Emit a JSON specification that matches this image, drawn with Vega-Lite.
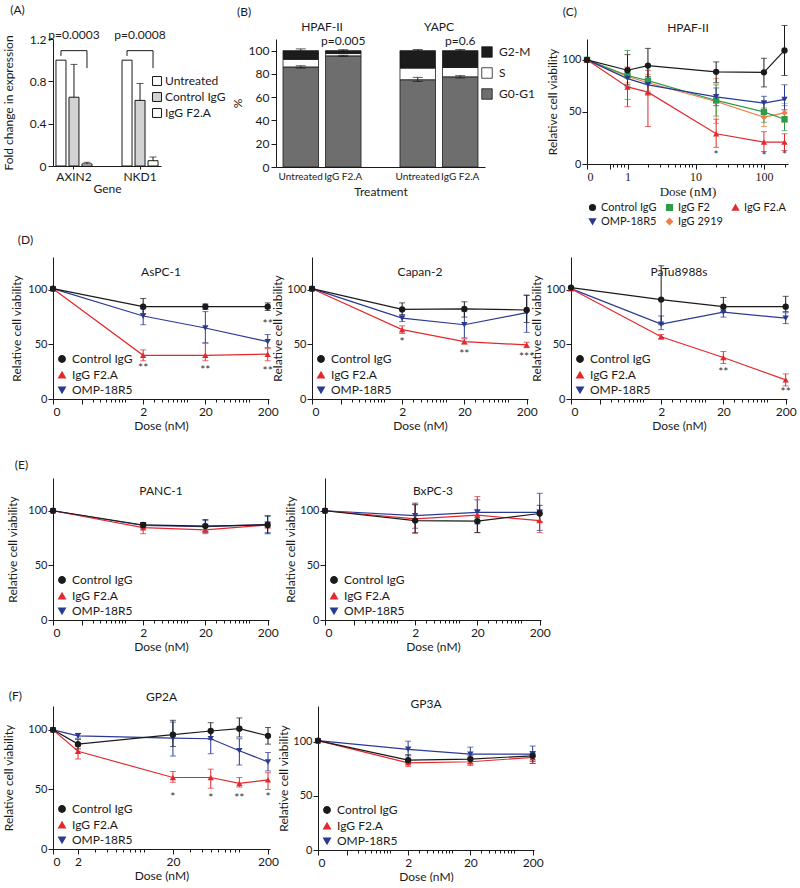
{
"$schema":"https://vega.github.io/schema/vega-lite/v6.json",
"padding":{"left":2,"top":3,"right":0,"bottom":0},
"config":{
 "font":"Lato",
 "view":{"stroke":null},
 "axis":{"labelFont":"Lato","titleFont":"Lato","labelFontSize":11,"titleFontSize":12,"titleFontWeight":"normal","domainColor":"#1a1a1a","tickColor":"#1a1a1a","labelColor":"#1a1a1a","titleColor":"#1a1a1a","grid":false},
 "legend":{"labelFont":"Lato","labelFontSize":12,"labelColor":"#1a1a1a","symbolOpacity":1},
 "title":{"font":"Lato","fontSize":12,"fontWeight":"normal","color":"#1a1a1a"}
},
"datasets":{
 "expr":[
  {"gene":"AXIN2","trt":"Untreated","val":1.0},
  {"gene":"AXIN2","trt":"Control IgG","val":0.65,"hi":0.96},
  {"gene":"AXIN2","trt":"IgG F2.A","val":0.02,"hi":0.035},
  {"gene":"NKD1","trt":"Untreated","val":1.0},
  {"gene":"NKD1","trt":"Control IgG","val":0.62,"hi":0.78},
  {"gene":"NKD1","trt":"IgG F2.A","val":0.05,"hi":0.085}
 ],
 "brk":[
  {"gene":"AXIN2","trt":"Untreated","y":1.04,"k":1},
  {"gene":"AXIN2","trt":"Untreated","y":1.09,"k":2},
  {"gene":"AXIN2","trt":"IgG F2.A","y":1.09,"k":3},
  {"gene":"AXIN2","trt":"IgG F2.A","y":0.925,"k":4},
  {"gene":"NKD1","trt":"Untreated","y":1.04,"k":1},
  {"gene":"NKD1","trt":"Untreated","y":1.09,"k":2},
  {"gene":"NKD1","trt":"IgG F2.A","y":1.09,"k":3},
  {"gene":"NKD1","trt":"IgG F2.A","y":0.925,"k":4}
 ],
 "pv":[
  {"gene":"AXIN2","y":1.24,"t":"p=0.0003"},
  {"gene":"NKD1","y":1.24,"t":"p=0.0008"}
 ],
 "cycle":[
  {"cell":"HPAF-II","trt":"Untreated","phase":"G0-G1","lo":0,"hi":86},
  {"cell":"HPAF-II","trt":"Untreated","phase":"S","lo":86,"hi":92.5},
  {"cell":"HPAF-II","trt":"Untreated","phase":"G2-M","lo":92.5,"hi":100},
  {"cell":"HPAF-II","trt":"IgG F2.A","phase":"G0-G1","lo":0,"hi":95.5},
  {"cell":"HPAF-II","trt":"IgG F2.A","phase":"S","lo":95.5,"hi":97.5},
  {"cell":"HPAF-II","trt":"IgG F2.A","phase":"G2-M","lo":97.5,"hi":100},
  {"cell":"YAPC","trt":"Untreated","phase":"G0-G1","lo":0,"hi":75},
  {"cell":"YAPC","trt":"Untreated","phase":"S","lo":75,"hi":85},
  {"cell":"YAPC","trt":"Untreated","phase":"G2-M","lo":85,"hi":100},
  {"cell":"YAPC","trt":"IgG F2.A","phase":"G0-G1","lo":0,"hi":77.5},
  {"cell":"YAPC","trt":"IgG F2.A","phase":"S","lo":77.5,"hi":85.5},
  {"cell":"YAPC","trt":"IgG F2.A","phase":"G2-M","lo":85.5,"hi":100}
 ],
 "cycerr":[
  {"cell":"HPAF-II","trt":"Untreated","lo":85,"hi":87},
  {"cell":"HPAF-II","trt":"Untreated","lo":99,"hi":101.5},
  {"cell":"HPAF-II","trt":"IgG F2.A","lo":95,"hi":96},
  {"cell":"HPAF-II","trt":"IgG F2.A","lo":99.5,"hi":100.8},
  {"cell":"YAPC","trt":"Untreated","lo":73.5,"hi":77},
  {"cell":"YAPC","trt":"Untreated","lo":99.5,"hi":101},
  {"cell":"YAPC","trt":"IgG F2.A","lo":76.5,"hi":78.5},
  {"cell":"YAPC","trt":"IgG F2.A","lo":99.5,"hi":101}
 ],
 "cycp":[
  {"cell":"HPAF-II","trt":"IgG F2.A","y":108.5,"t":"p=0.005"},
  {"cell":"YAPC","trt":"IgG F2.A","y":108.5,"t":"p=0.6"}
 ],
 "cyclab":[
  {"cell":"HPAF-II","trt":"Untreated"},
  {"cell":"HPAF-II","trt":"IgG F2.A"},
  {"cell":"YAPC","trt":"Untreated"},
  {"cell":"YAPC","trt":"IgG F2.A"}
 ],
 "stars":[
  {"p":"HPAF-II","d":20,"y":9,"t":"*"},
  {"p":"HPAF-II","d":100,"y":8,"t":"*"},
  {"p":"HPAF-II","d":200,"y":9,"t":"*"},
  {"p":"AsPC-1","d":2,"y":28,"t":"**"},
  {"p":"AsPC-1","d":20,"y":27,"t":"**"},
  {"p":"AsPC-1","d":200,"y":26,"t":"**"},
  {"p":"AsPC-1","d":200,"y":69,"t":"**"},
  {"p":"Capan-2","d":2,"y":52,"t":"*"},
  {"p":"Capan-2","d":20,"y":41,"t":"**"},
  {"p":"Capan-2","d":200,"y":38,"t":"***"},
  {"p":"PaTu8988s","d":20,"y":25,"t":"**"},
  {"p":"PaTu8988s","d":200,"y":6,"t":"**"},
  {"p":"GP2A","d":20,"y":44,"t":"*"},
  {"p":"GP2A","d":50,"y":43,"t":"*"},
  {"p":"GP2A","d":100,"y":43,"t":"**"},
  {"p":"GP2A","d":200,"y":44,"t":"*"}
 ],
 "viab":[
  {"p":"HPAF-II","s":"IgG 2919","d":0,"v":100},
  {"p":"HPAF-II","s":"IgG 2919","d":1,"v":84,"lo":78,"hi":90},
  {"p":"HPAF-II","s":"IgG 2919","d":2,"v":78,"lo":70,"hi":86},
  {"p":"HPAF-II","s":"IgG 2919","d":20,"v":60,"lo":39,"hi":82},
  {"p":"HPAF-II","s":"IgG 2919","d":100,"v":45,"lo":36,"hi":54},
  {"p":"HPAF-II","s":"IgG 2919","d":200,"v":49,"lo":40,"hi":58},
  {"p":"HPAF-II","s":"IgG F2","d":0,"v":100},
  {"p":"HPAF-II","s":"IgG F2","d":1,"v":85,"lo":62,"hi":109},
  {"p":"HPAF-II","s":"IgG F2","d":2,"v":80,"lo":66,"hi":94},
  {"p":"HPAF-II","s":"IgG F2","d":20,"v":61,"lo":46,"hi":76},
  {"p":"HPAF-II","s":"IgG F2","d":100,"v":50,"lo":40,"hi":60},
  {"p":"HPAF-II","s":"IgG F2","d":200,"v":43,"lo":32,"hi":56},
  {"p":"HPAF-II","s":"OMP-18R5","d":0,"v":100},
  {"p":"HPAF-II","s":"OMP-18R5","d":1,"v":82,"lo":74,"hi":90},
  {"p":"HPAF-II","s":"OMP-18R5","d":2,"v":76,"lo":68,"hi":84},
  {"p":"HPAF-II","s":"OMP-18R5","d":20,"v":64.5,"lo":56,"hi":73},
  {"p":"HPAF-II","s":"OMP-18R5","d":100,"v":58.5,"lo":52,"hi":65},
  {"p":"HPAF-II","s":"OMP-18R5","d":200,"v":62,"lo":52,"hi":76},
  {"p":"HPAF-II","s":"IgG F2.A","d":0,"v":100},
  {"p":"HPAF-II","s":"IgG F2.A","d":1,"v":74,"lo":55,"hi":93},
  {"p":"HPAF-II","s":"IgG F2.A","d":2,"v":69,"lo":36,"hi":90},
  {"p":"HPAF-II","s":"IgG F2.A","d":20,"v":29,"lo":16,"hi":43},
  {"p":"HPAF-II","s":"IgG F2.A","d":100,"v":21,"lo":12,"hi":31},
  {"p":"HPAF-II","s":"IgG F2.A","d":200,"v":21,"lo":13,"hi":29},
  {"p":"HPAF-II","s":"Control IgG","d":0,"v":100},
  {"p":"HPAF-II","s":"Control IgG","d":1,"v":90,"lo":76,"hi":105},
  {"p":"HPAF-II","s":"Control IgG","d":2,"v":94.5,"lo":78,"hi":111},
  {"p":"HPAF-II","s":"Control IgG","d":20,"v":88.5,"lo":78,"hi":98},
  {"p":"HPAF-II","s":"Control IgG","d":100,"v":88,"lo":74,"hi":101.5},
  {"p":"HPAF-II","s":"Control IgG","d":200,"v":109,"lo":85,"hi":133},
  {"p":"AsPC-1","s":"OMP-18R5","d":0,"v":101},
  {"p":"AsPC-1","s":"OMP-18R5","d":2,"v":76,"lo":68,"hi":82.5},
  {"p":"AsPC-1","s":"OMP-18R5","d":20,"v":65,"lo":51.5,"hi":80},
  {"p":"AsPC-1","s":"OMP-18R5","d":200,"v":52.5,"lo":47,"hi":59},
  {"p":"AsPC-1","s":"IgG F2.A","d":0,"v":101},
  {"p":"AsPC-1","s":"IgG F2.A","d":2,"v":40,"lo":35,"hi":45},
  {"p":"AsPC-1","s":"IgG F2.A","d":20,"v":40,"lo":35,"hi":51},
  {"p":"AsPC-1","s":"IgG F2.A","d":200,"v":41,"lo":35,"hi":46},
  {"p":"AsPC-1","s":"Control IgG","d":0,"v":101},
  {"p":"AsPC-1","s":"Control IgG","d":2,"v":84.5,"lo":78,"hi":92},
  {"p":"AsPC-1","s":"Control IgG","d":20,"v":84.5,"lo":82,"hi":87},
  {"p":"AsPC-1","s":"Control IgG","d":200,"v":84.5,"lo":81,"hi":88},
  {"p":"Capan-2","s":"OMP-18R5","d":0,"v":101},
  {"p":"Capan-2","s":"OMP-18R5","d":2,"v":74,"lo":71,"hi":77},
  {"p":"Capan-2","s":"OMP-18R5","d":20,"v":68,"lo":56,"hi":80},
  {"p":"Capan-2","s":"OMP-18R5","d":200,"v":79,"lo":61,"hi":95},
  {"p":"Capan-2","s":"IgG F2.A","d":0,"v":101},
  {"p":"Capan-2","s":"IgG F2.A","d":2,"v":63.5,"lo":60,"hi":67},
  {"p":"Capan-2","s":"IgG F2.A","d":20,"v":52.5,"lo":50.5,"hi":55},
  {"p":"Capan-2","s":"IgG F2.A","d":200,"v":49.5,"lo":47,"hi":52},
  {"p":"Capan-2","s":"Control IgG","d":0,"v":101},
  {"p":"Capan-2","s":"Control IgG","d":2,"v":82,"lo":77,"hi":88},
  {"p":"Capan-2","s":"Control IgG","d":20,"v":82.5,"lo":75,"hi":89},
  {"p":"Capan-2","s":"Control IgG","d":200,"v":81.5,"lo":70,"hi":95},
  {"p":"PaTu8988s","s":"OMP-18R5","d":0,"v":101},
  {"p":"PaTu8988s","s":"OMP-18R5","d":2,"v":68.5,"lo":63.5,"hi":76},
  {"p":"PaTu8988s","s":"OMP-18R5","d":20,"v":79.5,"lo":75,"hi":84},
  {"p":"PaTu8988s","s":"OMP-18R5","d":200,"v":74,"lo":69,"hi":79},
  {"p":"PaTu8988s","s":"IgG F2.A","d":0,"v":101},
  {"p":"PaTu8988s","s":"IgG F2.A","d":2,"v":57,"lo":55,"hi":59},
  {"p":"PaTu8988s","s":"IgG F2.A","d":20,"v":38,"lo":32.5,"hi":43.5},
  {"p":"PaTu8988s","s":"IgG F2.A","d":200,"v":17.5,"lo":12,"hi":23},
  {"p":"PaTu8988s","s":"Control IgG","d":0,"v":102},
  {"p":"PaTu8988s","s":"Control IgG","d":2,"v":91,"lo":68,"hi":122},
  {"p":"PaTu8988s","s":"Control IgG","d":20,"v":84.5,"lo":80,"hi":93},
  {"p":"PaTu8988s","s":"Control IgG","d":200,"v":84.5,"lo":80,"hi":94},
  {"p":"PANC-1","s":"OMP-18R5","d":0,"v":100},
  {"p":"PANC-1","s":"OMP-18R5","d":2,"v":86.5,"lo":84,"hi":89},
  {"p":"PANC-1","s":"OMP-18R5","d":20,"v":85.5,"lo":80,"hi":91},
  {"p":"PANC-1","s":"OMP-18R5","d":200,"v":87.5,"lo":80,"hi":95},
  {"p":"PANC-1","s":"IgG F2.A","d":0,"v":100},
  {"p":"PANC-1","s":"IgG F2.A","d":2,"v":84.5,"lo":79,"hi":89},
  {"p":"PANC-1","s":"IgG F2.A","d":20,"v":82.5,"lo":79,"hi":86.5},
  {"p":"PANC-1","s":"IgG F2.A","d":200,"v":87,"lo":84,"hi":90},
  {"p":"PANC-1","s":"Control IgG","d":0,"v":100},
  {"p":"PANC-1","s":"Control IgG","d":2,"v":87,"lo":85,"hi":89},
  {"p":"PANC-1","s":"Control IgG","d":20,"v":86,"lo":81,"hi":92},
  {"p":"PANC-1","s":"Control IgG","d":200,"v":87,"lo":79,"hi":95.5},
  {"p":"BxPC-3","s":"OMP-18R5","d":0,"v":100},
  {"p":"BxPC-3","s":"OMP-18R5","d":2,"v":95.5,"lo":84,"hi":107},
  {"p":"BxPC-3","s":"OMP-18R5","d":20,"v":98.5,"lo":88,"hi":110},
  {"p":"BxPC-3","s":"OMP-18R5","d":200,"v":98.5,"lo":82,"hi":116},
  {"p":"BxPC-3","s":"IgG F2.A","d":0,"v":100},
  {"p":"BxPC-3","s":"IgG F2.A","d":2,"v":92.5,"lo":80,"hi":106},
  {"p":"BxPC-3","s":"IgG F2.A","d":20,"v":96,"lo":80,"hi":113},
  {"p":"BxPC-3","s":"IgG F2.A","d":200,"v":91,"lo":80,"hi":101},
  {"p":"BxPC-3","s":"Control IgG","d":0,"v":100},
  {"p":"BxPC-3","s":"Control IgG","d":2,"v":91,"lo":79.5,"hi":105.5},
  {"p":"BxPC-3","s":"Control IgG","d":20,"v":90.5,"lo":80,"hi":101},
  {"p":"BxPC-3","s":"Control IgG","d":200,"v":97.5,"lo":90,"hi":105},
  {"p":"GP2A","s":"OMP-18R5","d":0,"v":100},
  {"p":"GP2A","s":"OMP-18R5","d":2,"v":95,"lo":93,"hi":97},
  {"p":"GP2A","s":"OMP-18R5","d":20,"v":93,"lo":78,"hi":106.5},
  {"p":"GP2A","s":"OMP-18R5","d":50,"v":92.5,"lo":80,"hi":99.5},
  {"p":"GP2A","s":"OMP-18R5","d":100,"v":82.5,"lo":70.5,"hi":92.5},
  {"p":"GP2A","s":"OMP-18R5","d":200,"v":73,"lo":65.5,"hi":81},
  {"p":"GP2A","s":"IgG F2.A","d":0,"v":100},
  {"p":"GP2A","s":"IgG F2.A","d":2,"v":82,"lo":75.5,"hi":86},
  {"p":"GP2A","s":"IgG F2.A","d":20,"v":60,"lo":56,"hi":65},
  {"p":"GP2A","s":"IgG F2.A","d":50,"v":60,"lo":51,"hi":67},
  {"p":"GP2A","s":"IgG F2.A","d":100,"v":55,"lo":52,"hi":60},
  {"p":"GP2A","s":"IgG F2.A","d":200,"v":58,"lo":50,"hi":64},
  {"p":"GP2A","s":"Control IgG","d":0,"v":100},
  {"p":"GP2A","s":"Control IgG","d":2,"v":88,"lo":84,"hi":92},
  {"p":"GP2A","s":"Control IgG","d":20,"v":96,"lo":86,"hi":108},
  {"p":"GP2A","s":"Control IgG","d":50,"v":99,"lo":92,"hi":106},
  {"p":"GP2A","s":"Control IgG","d":100,"v":101,"lo":94,"hi":110},
  {"p":"GP2A","s":"Control IgG","d":200,"v":95,"lo":88,"hi":102},
  {"p":"GP3A","s":"OMP-18R5","d":0,"v":101},
  {"p":"GP3A","s":"OMP-18R5","d":2,"v":93,"lo":87,"hi":100.5},
  {"p":"GP3A","s":"OMP-18R5","d":20,"v":88.5,"lo":84,"hi":95},
  {"p":"GP3A","s":"OMP-18R5","d":200,"v":88.5,"lo":80,"hi":96},
  {"p":"GP3A","s":"IgG F2.A","d":0,"v":101},
  {"p":"GP3A","s":"IgG F2.A","d":2,"v":80.5,"lo":77,"hi":84},
  {"p":"GP3A","s":"IgG F2.A","d":20,"v":81.5,"lo":78,"hi":85},
  {"p":"GP3A","s":"IgG F2.A","d":200,"v":85.5,"lo":80,"hi":89},
  {"p":"GP3A","s":"Control IgG","d":0,"v":101},
  {"p":"GP3A","s":"Control IgG","d":2,"v":83,"lo":80,"hi":88},
  {"p":"GP3A","s":"Control IgG","d":20,"v":84,"lo":80,"hi":87},
  {"p":"GP3A","s":"Control IgG","d":200,"v":87,"lo":82,"hi":91}
 ]
},
"columns":1,"align":"none","spacing":28,
"resolve":{"scale":{"color":"independent","fill":"independent","shape":"independent","xOffset":"independent"},"legend":{"color":"independent","fill":"independent","shape":"independent"}},
"concat":[
 {"columns":1,"align":"none","spacing":6,
  "resolve":{"scale":{"color":"independent","fill":"independent","shape":"independent","xOffset":"independent"},"legend":{"color":"independent","fill":"independent","shape":"independent"}},
  "concat":[
  {"spacing":5,
   "resolve":{"scale":{"color":"independent","fill":"independent","shape":"independent","xOffset":"independent"},"legend":{"color":"independent","fill":"independent","shape":"independent"}},
   "hconcat":[
   {"title":{"text":"(A)","anchor":"start","offset":12,"dx":8},
    "width":108,"height":127,
    "layer":[
     {"data":{"name":"expr"},
      "mark":{"type":"bar","stroke":"#1a1a1a","strokeWidth":1},
      "encoding":{
       "x":{"field":"gene","type":"nominal","scale":{"domain":["AXIN2","NKD1"],"paddingInner":0.455,"paddingOuter":0.045},"axis":{"title":"Gene","labelAngle":0,"tickSize":3,"labelPadding":2,"titlePadding":1,"labelFontSize":12}},
       "xOffset":{"field":"trt","type":"nominal","scale":{"domain":["Untreated","Control IgG","IgG F2.A"],"paddingInner":0.23}},
       "y":{"field":"val","type":"quantitative","scale":{"domain":[0,1.2],"nice":false},"axis":{"values":[0,0.2,0.4,0.6,0.8,1,1.2],"labelExpr":"datum.value == 0 ? '0' : format(datum.value, '.1f')","title":"Fold change in expression","titlePadding":14,"labelFontSize":12}},
       "fill":{"field":"trt","type":"nominal","scale":{"domain":["Untreated","Control IgG","IgG F2.A"],"range":["#ffffff","#d2d2d2","#ffffff"]},"legend":{"title":null,"orient":"none","legendX":98,"legendY":36,"symbolType":"square","symbolSize":80,"symbolStrokeColor":"#1a1a1a","symbolStrokeWidth":1,"labelFontSize":12,"rowPadding":2,"labelOffset":2}}
      }},
     {"data":{"name":"expr"},"transform":[{"filter":"datum.hi != null"}],
      "mark":{"type":"rule","color":"#1a1a1a","strokeWidth":1},
      "encoding":{
       "x":{"field":"gene","type":"nominal","scale":{"domain":["AXIN2","NKD1"],"paddingInner":0.455,"paddingOuter":0.045}},
       "xOffset":{"field":"trt","type":"nominal","scale":{"domain":["Untreated","Control IgG","IgG F2.A"],"paddingInner":0.23}},
       "y":{"field":"val","type":"quantitative"},
       "y2":{"field":"hi"}
      }},
     {"data":{"name":"expr"},"transform":[{"filter":"datum.hi != null"}],
      "mark":{"type":"tick","orient":"horizontal","size":7,"thickness":1,"color":"#1a1a1a"},
      "encoding":{
       "x":{"field":"gene","type":"nominal","scale":{"domain":["AXIN2","NKD1"],"paddingInner":0.455,"paddingOuter":0.045}},
       "xOffset":{"field":"trt","type":"nominal","scale":{"domain":["Untreated","Control IgG","IgG F2.A"],"paddingInner":0.23}},
       "y":{"field":"hi","type":"quantitative"}
      }},
     {"data":{"name":"brk"},
      "mark":{"type":"line","color":"#1a1a1a","strokeWidth":1},
      "encoding":{
       "x":{"field":"gene","type":"nominal","scale":{"domain":["AXIN2","NKD1"],"paddingInner":0.455,"paddingOuter":0.045}},
       "xOffset":{"field":"trt","type":"nominal","scale":{"domain":["Untreated","Control IgG","IgG F2.A"],"paddingInner":0.23}},
       "y":{"field":"y","type":"quantitative"},
       "detail":{"field":"gene"},
       "order":{"field":"k"}
      }},
     {"data":{"name":"pv"},
      "mark":{"type":"text","fontSize":12,"baseline":"middle","color":"#1a1a1a"},
      "encoding":{
       "x":{"field":"gene","type":"nominal","scale":{"domain":["AXIN2","NKD1"],"paddingInner":0.455,"paddingOuter":0.045}},
       "y":{"field":"y","type":"quantitative"},
       "text":{"field":"t"}
      }}
    ]},
   {"title":{"text":"(B)","anchor":"start","offset":1,"dx":6},
    "width":209,"height":128,
    "layer":[
     {"data":{"name":"cycle"},
      "mark":{"type":"bar","stroke":"#1a1a1a","strokeWidth":0.8},
      "encoding":{
       "x":{"field":"cell","type":"nominal","scale":{"domain":["HPAF-II","YAPC"],"paddingInner":0.333,"paddingOuter":0.06},"axis":{"orient":"top","title":null,"domain":false,"ticks":false,"labelAngle":0,"labelFontSize":12,"labelPadding":6}},
       "xOffset":{"field":"trt","type":"nominal","scale":{"domain":["Untreated","IgG F2.A"],"paddingInner":0.165}},
       "y":{"field":"lo","type":"quantitative","scale":{"domain":[0,110],"nice":false},"axis":{"values":[0,20,40,60,80,100],"title":"%","labelFontSize":12}},
       "y2":{"field":"hi"},
       "fill":{"field":"phase","type":"nominal","scale":{"domain":["G2-M","S","G0-G1"],"range":["#1c1c1c","#ffffff","#6e6e6e"]},"legend":{"title":null,"orient":"none","legendX":199,"legendY":1,"padding":6,"symbolType":"square","symbolSize":110,"symbolStrokeColor":"#1a1a1a","symbolStrokeWidth":0.8,"labelFontSize":12,"rowPadding":7,"labelOffset":6}}
      }},
     {"data":{"name":"cycerr"},
      "mark":{"type":"rule","color":"#1a1a1a","strokeWidth":1},
      "encoding":{
       "x":{"field":"cell","type":"nominal","scale":{"domain":["HPAF-II","YAPC"],"paddingInner":0.333,"paddingOuter":0.06},"axis":null},
       "xOffset":{"field":"trt","type":"nominal","scale":{"domain":["Untreated","IgG F2.A"],"paddingInner":0.165}},
       "y":{"field":"lo","type":"quantitative","axis":{"values":[0,20,40,60,80,100],"title":"%","labelFontSize":12}},
       "y2":{"field":"hi"}
      }},
     {"data":{"name":"cycerr"},
      "mark":{"type":"tick","orient":"horizontal","size":10,"thickness":1,"color":"#1a1a1a"},
      "encoding":{
       "x":{"field":"cell","type":"nominal","scale":{"domain":["HPAF-II","YAPC"],"paddingInner":0.333,"paddingOuter":0.06},"axis":null},
       "xOffset":{"field":"trt","type":"nominal","scale":{"domain":["Untreated","IgG F2.A"],"paddingInner":0.165}},
       "y":{"field":"hi","type":"quantitative","axis":{"values":[0,20,40,60,80,100],"title":"%","labelFontSize":12}}
      }},
     {"data":{"name":"cycerr"},
      "mark":{"type":"tick","orient":"horizontal","size":10,"thickness":1,"color":"#1a1a1a"},
      "encoding":{
       "x":{"field":"cell","type":"nominal","scale":{"domain":["HPAF-II","YAPC"],"paddingInner":0.333,"paddingOuter":0.06},"axis":null},
       "xOffset":{"field":"trt","type":"nominal","scale":{"domain":["Untreated","IgG F2.A"],"paddingInner":0.165}},
       "y":{"field":"lo","type":"quantitative","axis":{"values":[0,20,40,60,80,100],"title":"%","labelFontSize":12}}
      }},
     {"data":{"name":"cycp"},
      "mark":{"type":"text","fontSize":12,"baseline":"middle","color":"#1a1a1a"},
      "encoding":{
       "x":{"field":"cell","type":"nominal","scale":{"domain":["HPAF-II","YAPC"],"paddingInner":0.333,"paddingOuter":0.06},"axis":null},
       "xOffset":{"field":"trt","type":"nominal","scale":{"domain":["Untreated","IgG F2.A"],"paddingInner":0.165}},
       "y":{"field":"y","type":"quantitative","axis":{"values":[0,20,40,60,80,100],"title":"%","labelFontSize":12}},
       "text":{"field":"t"}
      }},
     {"data":{"name":"cyclab"},
      "mark":{"type":"text","fontSize":10,"baseline":"top","dy":5,"color":"#1a1a1a"},
      "encoding":{
       "x":{"field":"cell","type":"nominal","scale":{"domain":["HPAF-II","YAPC"],"paddingInner":0.333,"paddingOuter":0.06},"axis":{"orient":"bottom","title":"Treatment","labels":false,"ticks":false,"titlePadding":19}},
       "xOffset":{"field":"trt","type":"nominal","scale":{"domain":["Untreated","IgG F2.A"],"paddingInner":0.165}},
       "y":{"datum":0,"type":"quantitative","axis":{"values":[0,20,40,60,80,100],"title":"%","labelFontSize":12}},
       "text":{"field":"trt"}
      }}
    ],
    "resolve":{"axis":{"x":"independent"}}},
   {"width":201,"height":125,
    "title":{"text":"(C)","anchor":"start","offset":2,"dx":16},
    "layer":[
     {"data":{"name":"viab"},"transform":[{"filter":"datum.p == 'HPAF-II'"}],"mark":{"type":"line","strokeWidth":1.2},
      "encoding":{"x":{"field":"d","type":"quantitative","scale":{"type":"symlog","constant":0.01,"domain":[0,0.55,225],"range":[0,23,201],"nice":false,"zero":false},"axis":{"orient":"bottom","values":[0,0.55,1,10,100],"labelExpr":"datum.value == 0.55 ? '' : datum.label","format":"d","title":"Dose (nM)","labelFont":"Liberation Serif","labelFontSize":12,"titleFont":"Liberation Serif","titleFontSize":13,"tickSize":5,"labelPadding":2,"titlePadding":3}},
       "y":{"field":"v","type":"quantitative","scale":{"domain":[0,120],"nice":false},"axis":{"values":[0,50,100],"title":"Relative cell viability","titlePadding":2,"labelPadding":1,"labelFontSize":11}},
       "color":{"field":"s","type":"nominal","scale":{"domain":["Control IgG","IgG F2","IgG F2.A","OMP-18R5","IgG 2919"],"range":["#1a1a1a","#2c9c4b","#e3292d","#2a3a92","#f47c45"]},"legend":{"title":null,"orient":"bottom","direction":"horizontal","columns":3,"gridAlign":"none","symbolSize":32,"labelFontSize":11,"columnPadding":6,"rowPadding":1,"offset":4,"labelOffset":3}}}},
     {"data":{"name":"viab"},"transform":[{"filter":"datum.p == 'HPAF-II' && datum.lo != null"}],"mark":{"type":"errorbar","ticks":{"size":6},"thickness":1},
      "encoding":{"x":{"field":"d","type":"quantitative","scale":{"type":"symlog","constant":0.01,"domain":[0,0.55,225],"range":[0,23,201],"nice":false,"zero":false},"axis":null},
       "y":{"field":"lo","type":"quantitative","scale":{"domain":[0,120],"nice":false},"axis":{"values":[0,50,100],"title":"Relative cell viability","titlePadding":2,"labelPadding":1,"labelFontSize":11}},
       "y2":{"field":"hi"},
       "color":{"field":"s","type":"nominal","scale":{"domain":["Control IgG","IgG F2","IgG F2.A","OMP-18R5","IgG 2919"],"range":["#1a1a1a","#2c9c4b","#e3292d","#2a3a92","#f47c45"]},"legend":{"title":null,"orient":"bottom","direction":"horizontal","columns":3,"gridAlign":"none","symbolSize":32,"labelFontSize":11,"columnPadding":6,"rowPadding":1,"offset":4,"labelOffset":3}}}},
     {"data":{"name":"viab"},"transform":[{"filter":"datum.p == 'HPAF-II'"}],"mark":{"type":"point","filled":true,"size":40,"opacity":1},
      "encoding":{"x":{"field":"d","type":"quantitative","scale":{"type":"symlog","constant":0.01,"domain":[0,0.55,225],"range":[0,23,201],"nice":false,"zero":false},"axis":{"orient":"bottom","values":[0.6,0.7,0.8,0.9,2,3,4,5,6,7,8,9,20,30,40,50,60,70,80,90,200],"labels":false,"domain":false,"title":null,"tickSize":3}},
       "y":{"field":"v","type":"quantitative","scale":{"domain":[0,120],"nice":false},"axis":{"values":[0,50,100],"title":"Relative cell viability","titlePadding":2,"labelPadding":1,"labelFontSize":11}},
       "color":{"field":"s","type":"nominal","scale":{"domain":["Control IgG","IgG F2","IgG F2.A","OMP-18R5","IgG 2919"],"range":["#1a1a1a","#2c9c4b","#e3292d","#2a3a92","#f47c45"]},"legend":{"title":null,"orient":"bottom","direction":"horizontal","columns":3,"gridAlign":"none","symbolSize":32,"labelFontSize":11,"columnPadding":6,"rowPadding":1,"offset":4,"labelOffset":3}},
       "shape":{"field":"s","type":"nominal","scale":{"domain":["Control IgG","IgG F2","IgG F2.A","OMP-18R5","IgG 2919"],"range":["circle","square","triangle-up","triangle-down","diamond"]},"legend":{"title":null,"orient":"bottom","direction":"horizontal","columns":3,"gridAlign":"none","symbolSize":32,"labelFontSize":11,"columnPadding":6,"rowPadding":1,"offset":4,"labelOffset":3}}}},
     {"data":{"name":"stars"},"transform":[{"filter":"datum.p == 'HPAF-II'"}],"mark":{"type":"text","fontSize":12,"color":"#333333"},
      "encoding":{"x":{"field":"d","type":"quantitative","scale":{"type":"symlog","constant":0.01,"domain":[0,0.55,225],"range":[0,23,201],"nice":false,"zero":false},"axis":{"orient":"top","title":"HPAF-II","domain":false,"ticks":false,"labels":false,"titlePadding":5,"titleFontSize":12}},
       "y":{"field":"y","type":"quantitative","scale":{"domain":[0,120],"nice":false},"axis":{"values":[0,50,100],"title":"Relative cell viability","titlePadding":2,"labelPadding":1,"labelFontSize":11}},
       "text":{"field":"t"}}}
    ],
    "resolve":{"axis":{"x":"independent"}}}
  ]},
  {"spacing":-8,"title":{"text":"(D)","anchor":"start","dx":7,"offset":10},
   "resolve":{"scale":{"color":"independent","fill":"independent","shape":"independent","xOffset":"independent"},"legend":{"color":"independent","fill":"independent","shape":"independent"}},
   "hconcat":[
    {"width":216,"height":142,"title":{"text":"AsPC-1","offset":-22},
     "layer":[
      {"data":{"name":"viab"},"transform":[{"filter":"datum.p == 'AsPC-1'"}],"mark":{"type":"line","strokeWidth":1.2},
       "encoding":{"x":{"field":"d","type":"quantitative","scale":{"type":"symlog","constant":0.01,"domain":[0,0.2,210],"range":[0,29,216],"nice":false,"zero":false},"axis":{"orient":"bottom","values":[0,0.2,2,20,200],"labelExpr":"datum.value == 0.2 ? '' : datum.label","format":"d","title":"Dose (nM)","labelFontSize":12,"tickSize":5,"labelPadding":2,"titlePadding":3}},
        "y":{"field":"v","type":"quantitative","scale":{"domain":[0,130],"nice":false},"axis":{"values":[0,50,100],"title":"Relative cell viability","titlePadding":4,"labelPadding":1,"labelFontSize":11}},
        "color":{"field":"s","type":"nominal","scale":{"domain":["Control IgG","IgG F2.A","OMP-18R5"],"range":["#1a1a1a","#e3292d","#2a3a92"]},"legend":{"title":null,"orient":"bottom-left","offset":3,"padding":0,"rowPadding":3,"symbolSize":40,"labelFontSize":12,"labelOffset":4}}}},
      {"data":{"name":"viab"},"transform":[{"filter":"datum.p == 'AsPC-1' && datum.lo != null"}],"mark":{"type":"errorbar","ticks":{"size":6},"thickness":1},
       "encoding":{"x":{"field":"d","type":"quantitative","scale":{"type":"symlog","constant":0.01,"domain":[0,0.2,210],"range":[0,29,216],"nice":false,"zero":false},"axis":null},
        "y":{"field":"lo","type":"quantitative","scale":{"domain":[0,130],"nice":false},"axis":{"values":[0,50,100],"title":"Relative cell viability","titlePadding":4,"labelPadding":1,"labelFontSize":11}},
        "y2":{"field":"hi"},
        "color":{"field":"s","type":"nominal","scale":{"domain":["Control IgG","IgG F2.A","OMP-18R5"],"range":["#1a1a1a","#e3292d","#2a3a92"]},"legend":{"title":null,"orient":"bottom-left","offset":3,"padding":0,"rowPadding":3,"symbolSize":40,"labelFontSize":12,"labelOffset":4}}}},
      {"data":{"name":"viab"},"transform":[{"filter":"datum.p == 'AsPC-1'"}],"mark":{"type":"point","filled":true,"size":40,"opacity":1},
       "encoding":{"x":{"field":"d","type":"quantitative","scale":{"type":"symlog","constant":0.01,"domain":[0,0.2,210],"range":[0,29,216],"nice":false,"zero":false},"axis":{"orient":"bottom","values":[0.3,0.4,0.5,0.6,0.7,0.8,0.9,1,3,4,5,6,7,8,9,10,30,40,50,60,70,80,90,100],"labels":false,"domain":false,"title":null,"tickSize":3}},
        "y":{"field":"v","type":"quantitative","scale":{"domain":[0,130],"nice":false},"axis":{"values":[0,50,100],"title":"Relative cell viability","titlePadding":4,"labelPadding":1,"labelFontSize":11}},
        "color":{"field":"s","type":"nominal","scale":{"domain":["Control IgG","IgG F2.A","OMP-18R5"],"range":["#1a1a1a","#e3292d","#2a3a92"]},"legend":{"title":null,"orient":"bottom-left","offset":3,"padding":0,"rowPadding":3,"symbolSize":40,"labelFontSize":12,"labelOffset":4}},
        "shape":{"field":"s","type":"nominal","scale":{"domain":["Control IgG","IgG F2.A","OMP-18R5"],"range":["circle","triangle-up","triangle-down"]},"legend":{"title":null,"orient":"bottom-left","offset":3,"padding":0,"rowPadding":3,"symbolSize":40,"labelFontSize":12,"labelOffset":4}}}},
      {"data":{"name":"stars"},"transform":[{"filter":"datum.p == 'AsPC-1'"}],"mark":{"type":"text","fontSize":12,"color":"#333333"},
       "encoding":{"x":{"field":"d","type":"quantitative","scale":{"type":"symlog","constant":0.01,"domain":[0,0.2,210],"range":[0,29,216],"nice":false,"zero":false},"axis":null},
        "y":{"field":"y","type":"quantitative","scale":{"domain":[0,130],"nice":false},"axis":{"values":[0,50,100],"title":"Relative cell viability","titlePadding":4,"labelPadding":1,"labelFontSize":11}},
        "text":{"field":"t"}}}
     ],
     "resolve":{"axis":{"x":"independent"}}},
    {"width":216,"height":142,"title":{"text":"Capan-2","offset":-22},
     "layer":[
      {"data":{"name":"viab"},"transform":[{"filter":"datum.p == 'Capan-2'"}],"mark":{"type":"line","strokeWidth":1.2},
       "encoding":{"x":{"field":"d","type":"quantitative","scale":{"type":"symlog","constant":0.01,"domain":[0,0.2,210],"range":[0,29,216],"nice":false,"zero":false},"axis":{"orient":"bottom","values":[0,0.2,2,20,200],"labelExpr":"datum.value == 0.2 ? '' : datum.label","format":"d","title":"Dose (nM)","labelFontSize":12,"tickSize":5,"labelPadding":2,"titlePadding":3}},
        "y":{"field":"v","type":"quantitative","scale":{"domain":[0,130],"nice":false},"axis":{"values":[0,50,100],"title":"Relative cell viability","titlePadding":2,"labelPadding":1,"labelFontSize":11}},
        "color":{"field":"s","type":"nominal","scale":{"domain":["Control IgG","IgG F2.A","OMP-18R5"],"range":["#1a1a1a","#e3292d","#2a3a92"]},"legend":{"title":null,"orient":"bottom-left","offset":3,"padding":0,"rowPadding":3,"symbolSize":40,"labelFontSize":12,"labelOffset":4}}}},
      {"data":{"name":"viab"},"transform":[{"filter":"datum.p == 'Capan-2' && datum.lo != null"}],"mark":{"type":"errorbar","ticks":{"size":6},"thickness":1},
       "encoding":{"x":{"field":"d","type":"quantitative","scale":{"type":"symlog","constant":0.01,"domain":[0,0.2,210],"range":[0,29,216],"nice":false,"zero":false},"axis":null},
        "y":{"field":"lo","type":"quantitative","scale":{"domain":[0,130],"nice":false},"axis":{"values":[0,50,100],"title":"Relative cell viability","titlePadding":2,"labelPadding":1,"labelFontSize":11}},
        "y2":{"field":"hi"},
        "color":{"field":"s","type":"nominal","scale":{"domain":["Control IgG","IgG F2.A","OMP-18R5"],"range":["#1a1a1a","#e3292d","#2a3a92"]},"legend":{"title":null,"orient":"bottom-left","offset":3,"padding":0,"rowPadding":3,"symbolSize":40,"labelFontSize":12,"labelOffset":4}}}},
      {"data":{"name":"viab"},"transform":[{"filter":"datum.p == 'Capan-2'"}],"mark":{"type":"point","filled":true,"size":40,"opacity":1},
       "encoding":{"x":{"field":"d","type":"quantitative","scale":{"type":"symlog","constant":0.01,"domain":[0,0.2,210],"range":[0,29,216],"nice":false,"zero":false},"axis":{"orient":"bottom","values":[0.3,0.4,0.5,0.6,0.7,0.8,0.9,1,3,4,5,6,7,8,9,10,30,40,50,60,70,80,90,100],"labels":false,"domain":false,"title":null,"tickSize":3}},
        "y":{"field":"v","type":"quantitative","scale":{"domain":[0,130],"nice":false},"axis":{"values":[0,50,100],"title":"Relative cell viability","titlePadding":2,"labelPadding":1,"labelFontSize":11}},
        "color":{"field":"s","type":"nominal","scale":{"domain":["Control IgG","IgG F2.A","OMP-18R5"],"range":["#1a1a1a","#e3292d","#2a3a92"]},"legend":{"title":null,"orient":"bottom-left","offset":3,"padding":0,"rowPadding":3,"symbolSize":40,"labelFontSize":12,"labelOffset":4}},
        "shape":{"field":"s","type":"nominal","scale":{"domain":["Control IgG","IgG F2.A","OMP-18R5"],"range":["circle","triangle-up","triangle-down"]},"legend":{"title":null,"orient":"bottom-left","offset":3,"padding":0,"rowPadding":3,"symbolSize":40,"labelFontSize":12,"labelOffset":4}}}},
      {"data":{"name":"stars"},"transform":[{"filter":"datum.p == 'Capan-2'"}],"mark":{"type":"text","fontSize":12,"color":"#333333"},
       "encoding":{"x":{"field":"d","type":"quantitative","scale":{"type":"symlog","constant":0.01,"domain":[0,0.2,210],"range":[0,29,216],"nice":false,"zero":false},"axis":null},
        "y":{"field":"y","type":"quantitative","scale":{"domain":[0,130],"nice":false},"axis":{"values":[0,50,100],"title":"Relative cell viability","titlePadding":2,"labelPadding":1,"labelFontSize":11}},
        "text":{"field":"t"}}}
     ],
     "resolve":{"axis":{"x":"independent"}}},
    {"width":216,"height":142,"title":{"text":"PaTu8988s","offset":-22},
     "layer":[
      {"data":{"name":"viab"},"transform":[{"filter":"datum.p == 'PaTu8988s'"}],"mark":{"type":"line","strokeWidth":1.2},
       "encoding":{"x":{"field":"d","type":"quantitative","scale":{"type":"symlog","constant":0.01,"domain":[0,0.2,210],"range":[0,29,216],"nice":false,"zero":false},"axis":{"orient":"bottom","values":[0,0.2,2,20,200],"labelExpr":"datum.value == 0.2 ? '' : datum.label","format":"d","title":"Dose (nM)","labelFontSize":12,"tickSize":5,"labelPadding":2,"titlePadding":3}},
        "y":{"field":"v","type":"quantitative","scale":{"domain":[0,130],"nice":false},"axis":{"values":[0,50,100],"title":"Relative cell viability","titlePadding":2,"labelPadding":1,"labelFontSize":11}},
        "color":{"field":"s","type":"nominal","scale":{"domain":["Control IgG","IgG F2.A","OMP-18R5"],"range":["#1a1a1a","#e3292d","#2a3a92"]},"legend":{"title":null,"orient":"bottom-left","offset":3,"padding":0,"rowPadding":3,"symbolSize":40,"labelFontSize":12,"labelOffset":4}}}},
      {"data":{"name":"viab"},"transform":[{"filter":"datum.p == 'PaTu8988s' && datum.lo != null"}],"mark":{"type":"errorbar","ticks":{"size":6},"thickness":1},
       "encoding":{"x":{"field":"d","type":"quantitative","scale":{"type":"symlog","constant":0.01,"domain":[0,0.2,210],"range":[0,29,216],"nice":false,"zero":false},"axis":null},
        "y":{"field":"lo","type":"quantitative","scale":{"domain":[0,130],"nice":false},"axis":{"values":[0,50,100],"title":"Relative cell viability","titlePadding":2,"labelPadding":1,"labelFontSize":11}},
        "y2":{"field":"hi"},
        "color":{"field":"s","type":"nominal","scale":{"domain":["Control IgG","IgG F2.A","OMP-18R5"],"range":["#1a1a1a","#e3292d","#2a3a92"]},"legend":{"title":null,"orient":"bottom-left","offset":3,"padding":0,"rowPadding":3,"symbolSize":40,"labelFontSize":12,"labelOffset":4}}}},
      {"data":{"name":"viab"},"transform":[{"filter":"datum.p == 'PaTu8988s'"}],"mark":{"type":"point","filled":true,"size":40,"opacity":1},
       "encoding":{"x":{"field":"d","type":"quantitative","scale":{"type":"symlog","constant":0.01,"domain":[0,0.2,210],"range":[0,29,216],"nice":false,"zero":false},"axis":{"orient":"bottom","values":[0.3,0.4,0.5,0.6,0.7,0.8,0.9,1,3,4,5,6,7,8,9,10,30,40,50,60,70,80,90,100],"labels":false,"domain":false,"title":null,"tickSize":3}},
        "y":{"field":"v","type":"quantitative","scale":{"domain":[0,130],"nice":false},"axis":{"values":[0,50,100],"title":"Relative cell viability","titlePadding":2,"labelPadding":1,"labelFontSize":11}},
        "color":{"field":"s","type":"nominal","scale":{"domain":["Control IgG","IgG F2.A","OMP-18R5"],"range":["#1a1a1a","#e3292d","#2a3a92"]},"legend":{"title":null,"orient":"bottom-left","offset":3,"padding":0,"rowPadding":3,"symbolSize":40,"labelFontSize":12,"labelOffset":4}},
        "shape":{"field":"s","type":"nominal","scale":{"domain":["Control IgG","IgG F2.A","OMP-18R5"],"range":["circle","triangle-up","triangle-down"]},"legend":{"title":null,"orient":"bottom-left","offset":3,"padding":0,"rowPadding":3,"symbolSize":40,"labelFontSize":12,"labelOffset":4}}}},
      {"data":{"name":"stars"},"transform":[{"filter":"datum.p == 'PaTu8988s'"}],"mark":{"type":"text","fontSize":12,"color":"#333333"},
       "encoding":{"x":{"field":"d","type":"quantitative","scale":{"type":"symlog","constant":0.01,"domain":[0,0.2,210],"range":[0,29,216],"nice":false,"zero":false},"axis":null},
        "y":{"field":"y","type":"quantitative","scale":{"domain":[0,130],"nice":false},"axis":{"values":[0,50,100],"title":"Relative cell viability","titlePadding":2,"labelPadding":1,"labelFontSize":11}},
        "text":{"field":"t"}}}
     ],
     "resolve":{"axis":{"x":"independent"}}}
   ]}
 ]},
 {"columns":1,"align":"none","spacing":38,
  "resolve":{"scale":{"color":"independent","fill":"independent","shape":"independent","xOffset":"independent"},"legend":{"color":"independent","fill":"independent","shape":"independent"}},
  "concat":[
  {"spacing":5,"title":{"text":"(E)","anchor":"start","dx":8,"offset":6},
   "resolve":{"scale":{"color":"independent","fill":"independent","shape":"independent","xOffset":"independent"},"legend":{"color":"independent","fill":"independent","shape":"independent"}},
   "hconcat":[
    {"width":216,"height":142,"title":{"text":"PANC-1","offset":-20},
     "layer":[
      {"data":{"name":"viab"},"transform":[{"filter":"datum.p == 'PANC-1'"}],"mark":{"type":"line","strokeWidth":1.2},
       "encoding":{"x":{"field":"d","type":"quantitative","scale":{"type":"symlog","constant":0.01,"domain":[0,0.2,210],"range":[0,29,216],"nice":false,"zero":false},"axis":{"orient":"bottom","values":[0,0.2,2,20,200],"labelExpr":"datum.value == 0.2 ? '' : datum.label","format":"d","title":"Dose (nM)","labelFontSize":12,"tickSize":5,"labelPadding":2,"titlePadding":3}},
        "y":{"field":"v","type":"quantitative","scale":{"domain":[0,130],"nice":false},"axis":{"values":[0,50,100],"title":"Relative cell viability","titlePadding":8,"labelPadding":1,"labelFontSize":11}},
        "color":{"field":"s","type":"nominal","scale":{"domain":["Control IgG","IgG F2.A","OMP-18R5"],"range":["#1a1a1a","#e3292d","#2a3a92"]},"legend":{"title":null,"orient":"bottom-left","offset":3,"padding":0,"rowPadding":3,"symbolSize":40,"labelFontSize":12,"labelOffset":4}}}},
      {"data":{"name":"viab"},"transform":[{"filter":"datum.p == 'PANC-1' && datum.lo != null"}],"mark":{"type":"errorbar","ticks":{"size":6},"thickness":1},
       "encoding":{"x":{"field":"d","type":"quantitative","scale":{"type":"symlog","constant":0.01,"domain":[0,0.2,210],"range":[0,29,216],"nice":false,"zero":false},"axis":null},
        "y":{"field":"lo","type":"quantitative","scale":{"domain":[0,130],"nice":false},"axis":{"values":[0,50,100],"title":"Relative cell viability","titlePadding":8,"labelPadding":1,"labelFontSize":11}},
        "y2":{"field":"hi"},
        "color":{"field":"s","type":"nominal","scale":{"domain":["Control IgG","IgG F2.A","OMP-18R5"],"range":["#1a1a1a","#e3292d","#2a3a92"]},"legend":{"title":null,"orient":"bottom-left","offset":3,"padding":0,"rowPadding":3,"symbolSize":40,"labelFontSize":12,"labelOffset":4}}}},
      {"data":{"name":"viab"},"transform":[{"filter":"datum.p == 'PANC-1'"}],"mark":{"type":"point","filled":true,"size":40,"opacity":1},
       "encoding":{"x":{"field":"d","type":"quantitative","scale":{"type":"symlog","constant":0.01,"domain":[0,0.2,210],"range":[0,29,216],"nice":false,"zero":false},"axis":{"orient":"bottom","values":[0.3,0.4,0.5,0.6,0.7,0.8,0.9,1,3,4,5,6,7,8,9,10,30,40,50,60,70,80,90,100],"labels":false,"domain":false,"title":null,"tickSize":3}},
        "y":{"field":"v","type":"quantitative","scale":{"domain":[0,130],"nice":false},"axis":{"values":[0,50,100],"title":"Relative cell viability","titlePadding":8,"labelPadding":1,"labelFontSize":11}},
        "color":{"field":"s","type":"nominal","scale":{"domain":["Control IgG","IgG F2.A","OMP-18R5"],"range":["#1a1a1a","#e3292d","#2a3a92"]},"legend":{"title":null,"orient":"bottom-left","offset":3,"padding":0,"rowPadding":3,"symbolSize":40,"labelFontSize":12,"labelOffset":4}},
        "shape":{"field":"s","type":"nominal","scale":{"domain":["Control IgG","IgG F2.A","OMP-18R5"],"range":["circle","triangle-up","triangle-down"]},"legend":{"title":null,"orient":"bottom-left","offset":3,"padding":0,"rowPadding":3,"symbolSize":40,"labelFontSize":12,"labelOffset":4}}}}
     ],
     "resolve":{"axis":{"x":"independent"}}},
    {"width":216,"height":142,"title":{"text":"BxPC-3","offset":-20},
     "layer":[
      {"data":{"name":"viab"},"transform":[{"filter":"datum.p == 'BxPC-3'"}],"mark":{"type":"line","strokeWidth":1.2},
       "encoding":{"x":{"field":"d","type":"quantitative","scale":{"type":"symlog","constant":0.01,"domain":[0,0.2,210],"range":[0,29,216],"nice":false,"zero":false},"axis":{"orient":"bottom","values":[0,0.2,2,20,200],"labelExpr":"datum.value == 0.2 ? '' : datum.label","format":"d","title":"Dose (nM)","labelFontSize":12,"tickSize":5,"labelPadding":2,"titlePadding":3}},
        "y":{"field":"v","type":"quantitative","scale":{"domain":[0,130],"nice":false},"axis":{"values":[0,50,100],"title":"Relative cell viability","titlePadding":2,"labelPadding":1,"labelFontSize":11}},
        "color":{"field":"s","type":"nominal","scale":{"domain":["Control IgG","IgG F2.A","OMP-18R5"],"range":["#1a1a1a","#e3292d","#2a3a92"]},"legend":{"title":null,"orient":"bottom-left","offset":3,"padding":0,"rowPadding":3,"symbolSize":40,"labelFontSize":12,"labelOffset":4}}}},
      {"data":{"name":"viab"},"transform":[{"filter":"datum.p == 'BxPC-3' && datum.lo != null"}],"mark":{"type":"errorbar","ticks":{"size":6},"thickness":1},
       "encoding":{"x":{"field":"d","type":"quantitative","scale":{"type":"symlog","constant":0.01,"domain":[0,0.2,210],"range":[0,29,216],"nice":false,"zero":false},"axis":null},
        "y":{"field":"lo","type":"quantitative","scale":{"domain":[0,130],"nice":false},"axis":{"values":[0,50,100],"title":"Relative cell viability","titlePadding":2,"labelPadding":1,"labelFontSize":11}},
        "y2":{"field":"hi"},
        "color":{"field":"s","type":"nominal","scale":{"domain":["Control IgG","IgG F2.A","OMP-18R5"],"range":["#1a1a1a","#e3292d","#2a3a92"]},"legend":{"title":null,"orient":"bottom-left","offset":3,"padding":0,"rowPadding":3,"symbolSize":40,"labelFontSize":12,"labelOffset":4}}}},
      {"data":{"name":"viab"},"transform":[{"filter":"datum.p == 'BxPC-3'"}],"mark":{"type":"point","filled":true,"size":40,"opacity":1},
       "encoding":{"x":{"field":"d","type":"quantitative","scale":{"type":"symlog","constant":0.01,"domain":[0,0.2,210],"range":[0,29,216],"nice":false,"zero":false},"axis":{"orient":"bottom","values":[0.3,0.4,0.5,0.6,0.7,0.8,0.9,1,3,4,5,6,7,8,9,10,30,40,50,60,70,80,90,100],"labels":false,"domain":false,"title":null,"tickSize":3}},
        "y":{"field":"v","type":"quantitative","scale":{"domain":[0,130],"nice":false},"axis":{"values":[0,50,100],"title":"Relative cell viability","titlePadding":2,"labelPadding":1,"labelFontSize":11}},
        "color":{"field":"s","type":"nominal","scale":{"domain":["Control IgG","IgG F2.A","OMP-18R5"],"range":["#1a1a1a","#e3292d","#2a3a92"]},"legend":{"title":null,"orient":"bottom-left","offset":3,"padding":0,"rowPadding":3,"symbolSize":40,"labelFontSize":12,"labelOffset":4}},
        "shape":{"field":"s","type":"nominal","scale":{"domain":["Control IgG","IgG F2.A","OMP-18R5"],"range":["circle","triangle-up","triangle-down"]},"legend":{"title":null,"orient":"bottom-left","offset":3,"padding":0,"rowPadding":3,"symbolSize":40,"labelFontSize":12,"labelOffset":4}}}}
     ],
     "resolve":{"axis":{"x":"independent"}}}
   ]},
  {"spacing":-2,"title":{"text":"(F)","anchor":"start","dx":6,"offset":-12},
   "resolve":{"scale":{"color":"independent","fill":"independent","shape":"independent","xOffset":"independent"},"legend":{"color":"independent","fill":"independent","shape":"independent"}},
   "hconcat":[
    {"width":217,"height":143,"title":{"text":"GP2A","offset":2},
     "layer":[
      {"data":{"name":"viab"},"transform":[{"filter":"datum.p == 'GP2A'"}],"mark":{"type":"line","strokeWidth":1.2},
       "encoding":{"x":{"field":"d","type":"quantitative","scale":{"type":"symlog","constant":0.01,"domain":[0,2,210],"range":[0,25,217],"nice":false,"zero":false},"axis":{"orient":"bottom","values":[0,2,20,200],"format":"d","title":"Dose (nM)","labelFontSize":12,"tickSize":5,"labelPadding":2,"titlePadding":3}},
        "y":{"field":"v","type":"quantitative","scale":{"domain":[0,120],"nice":false},"axis":{"values":[0,50,100],"title":"Relative cell viability","titlePadding":12,"labelPadding":1,"labelFontSize":11}},
        "color":{"field":"s","type":"nominal","scale":{"domain":["Control IgG","IgG F2.A","OMP-18R5"],"range":["#1a1a1a","#e3292d","#2a3a92"]},"legend":{"title":null,"orient":"bottom-left","offset":3,"padding":0,"rowPadding":3,"symbolSize":40,"labelFontSize":12,"labelOffset":4}}}},
      {"data":{"name":"viab"},"transform":[{"filter":"datum.p == 'GP2A' && datum.lo != null"}],"mark":{"type":"errorbar","ticks":{"size":6},"thickness":1},
       "encoding":{"x":{"field":"d","type":"quantitative","scale":{"type":"symlog","constant":0.01,"domain":[0,2,210],"range":[0,25,217],"nice":false,"zero":false},"axis":null},
        "y":{"field":"lo","type":"quantitative","scale":{"domain":[0,120],"nice":false},"axis":{"values":[0,50,100],"title":"Relative cell viability","titlePadding":12,"labelPadding":1,"labelFontSize":11}},
        "y2":{"field":"hi"},
        "color":{"field":"s","type":"nominal","scale":{"domain":["Control IgG","IgG F2.A","OMP-18R5"],"range":["#1a1a1a","#e3292d","#2a3a92"]},"legend":{"title":null,"orient":"bottom-left","offset":3,"padding":0,"rowPadding":3,"symbolSize":40,"labelFontSize":12,"labelOffset":4}}}},
      {"data":{"name":"viab"},"transform":[{"filter":"datum.p == 'GP2A'"}],"mark":{"type":"point","filled":true,"size":40,"opacity":1},
       "encoding":{"x":{"field":"d","type":"quantitative","scale":{"type":"symlog","constant":0.01,"domain":[0,2,210],"range":[0,25,217],"nice":false,"zero":false},"axis":{"orient":"bottom","values":[3,4,5,6,7,8,9,10,30,40,50,60,70,80,90,100],"labels":false,"domain":false,"title":null,"tickSize":3}},
        "y":{"field":"v","type":"quantitative","scale":{"domain":[0,120],"nice":false},"axis":{"values":[0,50,100],"title":"Relative cell viability","titlePadding":12,"labelPadding":1,"labelFontSize":11}},
        "color":{"field":"s","type":"nominal","scale":{"domain":["Control IgG","IgG F2.A","OMP-18R5"],"range":["#1a1a1a","#e3292d","#2a3a92"]},"legend":{"title":null,"orient":"bottom-left","offset":3,"padding":0,"rowPadding":3,"symbolSize":40,"labelFontSize":12,"labelOffset":4}},
        "shape":{"field":"s","type":"nominal","scale":{"domain":["Control IgG","IgG F2.A","OMP-18R5"],"range":["circle","triangle-up","triangle-down"]},"legend":{"title":null,"orient":"bottom-left","offset":3,"padding":0,"rowPadding":3,"symbolSize":40,"labelFontSize":12,"labelOffset":4}}}},
      {"data":{"name":"stars"},"transform":[{"filter":"datum.p == 'GP2A'"}],"mark":{"type":"text","fontSize":12,"color":"#333333"},
       "encoding":{"x":{"field":"d","type":"quantitative","scale":{"type":"symlog","constant":0.01,"domain":[0,2,210],"range":[0,25,217],"nice":false,"zero":false},"axis":null},
        "y":{"field":"y","type":"quantitative","scale":{"domain":[0,120],"nice":false},"axis":{"values":[0,50,100],"title":"Relative cell viability","titlePadding":12,"labelPadding":1,"labelFontSize":11}},
        "text":{"field":"t"}}}
     ],
     "resolve":{"axis":{"x":"independent"}}},
    {"width":216,"height":144,"title":{"text":"GP3A","offset":-5},
     "layer":[
      {"data":{"name":"viab"},"transform":[{"filter":"datum.p == 'GP3A'"}],"mark":{"type":"line","strokeWidth":1.2},
       "encoding":{"x":{"field":"d","type":"quantitative","scale":{"type":"symlog","constant":0.01,"domain":[0,0.2,210],"range":[0,29,216],"nice":false,"zero":false},"axis":{"orient":"bottom","values":[0,0.2,2,20,200],"labelExpr":"datum.value == 0.2 ? '' : datum.label","format":"d","title":"Dose (nM)","labelFontSize":12,"tickSize":5,"labelPadding":2,"titlePadding":3}},
        "y":{"field":"v","type":"quantitative","scale":{"domain":[0,133],"nice":false},"axis":{"values":[0,50,100],"title":"Relative cell viability","titlePadding":2,"labelPadding":1,"labelFontSize":11}},
        "color":{"field":"s","type":"nominal","scale":{"domain":["Control IgG","IgG F2.A","OMP-18R5"],"range":["#1a1a1a","#e3292d","#2a3a92"]},"legend":{"title":null,"orient":"bottom-left","offset":3,"padding":0,"rowPadding":3,"symbolSize":40,"labelFontSize":12,"labelOffset":4}}}},
      {"data":{"name":"viab"},"transform":[{"filter":"datum.p == 'GP3A' && datum.lo != null"}],"mark":{"type":"errorbar","ticks":{"size":6},"thickness":1},
       "encoding":{"x":{"field":"d","type":"quantitative","scale":{"type":"symlog","constant":0.01,"domain":[0,0.2,210],"range":[0,29,216],"nice":false,"zero":false},"axis":null},
        "y":{"field":"lo","type":"quantitative","scale":{"domain":[0,133],"nice":false},"axis":{"values":[0,50,100],"title":"Relative cell viability","titlePadding":2,"labelPadding":1,"labelFontSize":11}},
        "y2":{"field":"hi"},
        "color":{"field":"s","type":"nominal","scale":{"domain":["Control IgG","IgG F2.A","OMP-18R5"],"range":["#1a1a1a","#e3292d","#2a3a92"]},"legend":{"title":null,"orient":"bottom-left","offset":3,"padding":0,"rowPadding":3,"symbolSize":40,"labelFontSize":12,"labelOffset":4}}}},
      {"data":{"name":"viab"},"transform":[{"filter":"datum.p == 'GP3A'"}],"mark":{"type":"point","filled":true,"size":40,"opacity":1},
       "encoding":{"x":{"field":"d","type":"quantitative","scale":{"type":"symlog","constant":0.01,"domain":[0,0.2,210],"range":[0,29,216],"nice":false,"zero":false},"axis":{"orient":"bottom","values":[0.3,0.4,0.5,0.6,0.7,0.8,0.9,1,3,4,5,6,7,8,9,10,30,40,50,60,70,80,90,100],"labels":false,"domain":false,"title":null,"tickSize":3}},
        "y":{"field":"v","type":"quantitative","scale":{"domain":[0,133],"nice":false},"axis":{"values":[0,50,100],"title":"Relative cell viability","titlePadding":2,"labelPadding":1,"labelFontSize":11}},
        "color":{"field":"s","type":"nominal","scale":{"domain":["Control IgG","IgG F2.A","OMP-18R5"],"range":["#1a1a1a","#e3292d","#2a3a92"]},"legend":{"title":null,"orient":"bottom-left","offset":3,"padding":0,"rowPadding":3,"symbolSize":40,"labelFontSize":12,"labelOffset":4}},
        "shape":{"field":"s","type":"nominal","scale":{"domain":["Control IgG","IgG F2.A","OMP-18R5"],"range":["circle","triangle-up","triangle-down"]},"legend":{"title":null,"orient":"bottom-left","offset":3,"padding":0,"rowPadding":3,"symbolSize":40,"labelFontSize":12,"labelOffset":4}}}}
     ],
     "resolve":{"axis":{"x":"independent"}}}
   ]}
 ]}
]
}
